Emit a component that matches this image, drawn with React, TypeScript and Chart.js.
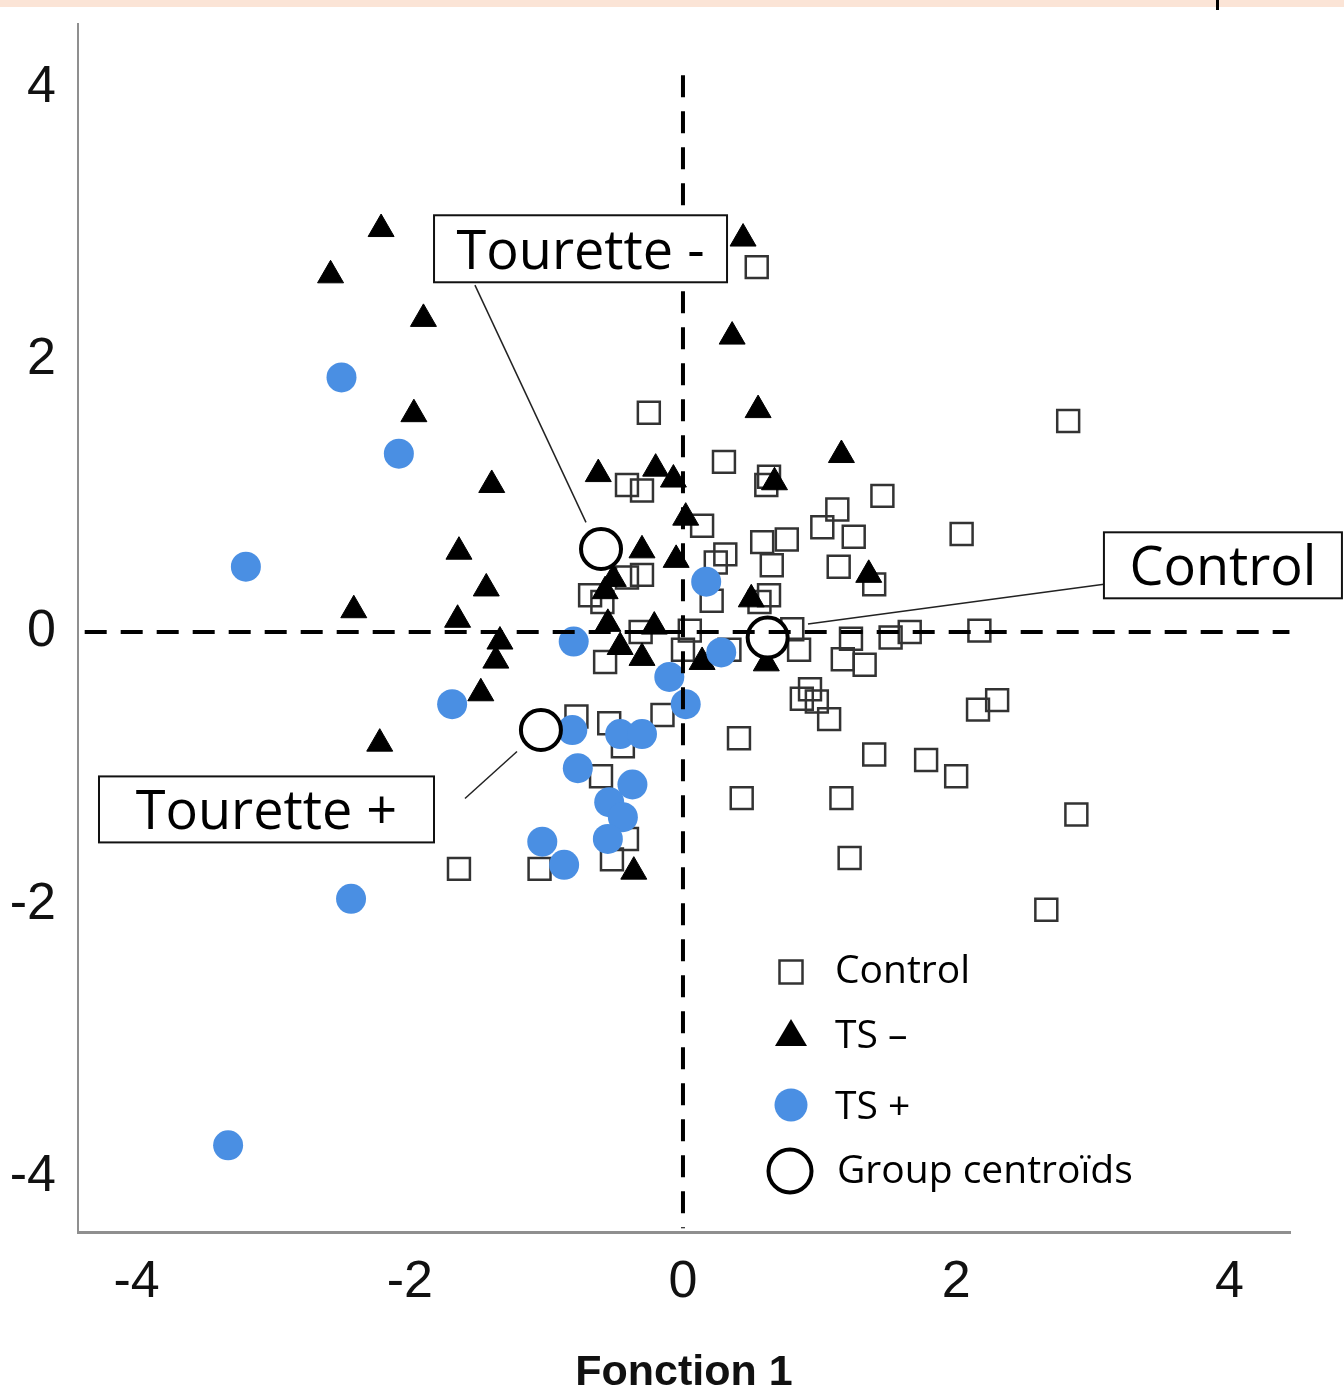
import React, { useEffect, useRef } from "react";
import { Chart, registerables } from "chart.js";

Chart.register(...registerables);

// ---- axis ticks ----
const xTicks = [-4, -2, 0, 2, 4];
const yTicks = [-4, -2, 0, 2, 4];
const xTitle = "Fonction 1";

// ---- Control (open squares) ----
const controlX = [0.54, 2.82, -0.25, 0.30, -0.41, -0.30, 0.63, 0.61, 1.46, 1.13, 1.02, 1.25, 2.04, 0.14, 0.58, 0.76, 0.31, 0.24, 0.65, 1.14, 1.40, -0.30, -0.41, -0.68, -0.59, 0.21, 0.63, -0.31, 0.05, 0.00, -0.57, 0.34, 0.80, 0.85, 1.23, 1.52, 1.66, 2.17, 1.17, 1.33, 0.93, 0.87, 0.98, 1.07, 2.16, 2.30, 0.41, 1.40, 1.78, 2.00, 0.43, 1.16, 2.88, 1.22, 2.66, -0.78, -0.54, -0.44, -0.15, -0.60, -0.41, -0.52, -1.05, -1.64, 0.56];
const controlY = [2.68, 1.55, 1.61, 1.25, 1.08, 1.04, 1.14, 1.08, 1.00, 0.90, 0.77, 0.70, 0.72, 0.78, 0.66, 0.68, 0.57, 0.51, 0.49, 0.48, 0.35, 0.42, 0.40, 0.27, 0.22, 0.23, 0.27, 0.00, 0.01, -0.13, -0.22, -0.13, 0.02, -0.13, -0.05, -0.04, 0.00, 0.01, -0.20, -0.24, -0.42, -0.49, -0.51, -0.64, -0.57, -0.50, -0.78, -0.90, -0.94, -1.06, -1.22, -1.22, -1.34, -1.66, -2.04, -0.62, -0.67, -0.84, -0.61, -1.06, -1.52, -1.67, -1.74, -1.74, 0.22];

// ---- TS − (black triangles) ----
const tsMinusX = [-2.21, -2.58, -1.90, -1.97, -1.40, -1.64, -1.44, -2.41, -1.65, -1.34, -1.37, -1.48, -2.22, 0.44, 0.36, 0.55, 1.16, 1.36, -0.36, -0.62, -0.20, -0.07, 0.02, -0.30, -0.05, -0.51, -0.55, -0.21, -0.46, -0.30, 0.14, 0.50, 0.67, 0.61, -0.57];
const tsMinusY = [2.96, 2.62, 2.30, 1.60, 1.08, 0.59, 0.32, 0.16, 0.09, -0.07, -0.21, -0.45, -0.82, 2.89, 2.17, 1.63, 1.30, 0.42, -1.76, 1.16, 1.20, 1.12, 0.84, 0.60, 0.53, 0.39, 0.06, 0.04, -0.11, -0.19, -0.22, 0.24, 1.10, -0.23, 0.30];

// ---- TS + (blue dots) ----
const tsPlusX = [-2.50, -2.08, -3.20, -1.69, -2.43, -3.33, -0.80, 0.17, 0.28, -0.10, 0.02, -0.81, -0.46, -0.30, -0.77, -0.37, -0.54, -0.44, -0.55, -1.03, -0.87];
const tsPlusY = [1.87, 1.31, 0.48, -0.53, -1.96, -3.77, -0.07, 0.37, -0.15, -0.33, -0.53, -0.72, -0.75, -0.75, -1.00, -1.12, -1.25, -1.36, -1.52, -1.54, -1.71];

// ---- Group centroids ----
const centroidNames = ["Tourette -", "Control", "Tourette +"];
const centroidX = [-0.60, 0.62, -1.04];
const centroidY = [0.61, -0.04, -0.72];

// ---- legend labels ----
const legendLabels = ["Control", "TS \u2013", "TS +", "Group centro\u00efds"];

// ---- annotation callouts (data coordinates) ----
const calloutBoxX = [-0.75, 3.953, -3.049];
const calloutBoxY = [2.815, 0.49, -1.303];
const calloutLineFromX = [-1.523, 3.082, -1.596];
const calloutLineFromY = [2.548, 0.351, -1.223];
const calloutLineToX = [-0.71, 0.915, -1.215];
const calloutLineToY = [0.805, 0.059, -0.878];

const pts = (xs: number[], ys: number[]) => xs.map((x, i) => ({ x, y: ys[i] }));

const SANS = "'Liberation Sans', Arial, sans-serif";
const OPEN = "'Open Sans', 'Noto Sans', sans-serif";
const BLUE = "#4a8fe3";

export default function App() {
  const ref = useRef<HTMLCanvasElement | null>(null);

  useEffect(() => {
    if (!ref.current) return;

    const boxSizes = [
      { w: 293, h: 67 },
      { w: 238, h: 66 },
      { w: 335, h: 66 },
    ];

    const extras = {
      id: "extras",
      beforeDraw(chart: any) {
        const ctx = chart.ctx;
        ctx.save();
        ctx.fillStyle = "#ffffff";
        ctx.fillRect(0, 0, chart.width, chart.height);
        ctx.fillStyle = "#fbe4d6";
        ctx.fillRect(0, 0, chart.width, 7);
        ctx.fillStyle = "#000";
        ctx.fillRect(1216, 0, 3, 10);
        ctx.restore();
      },
      afterDraw(chart: any) {
        const ctx = chart.ctx;
        const xs = chart.scales.x;
        const ys = chart.scales.y;
        ctx.save();
        // callout boxes
        centroidNames.forEach((name, i) => {
          const cx = xs.getPixelForValue(calloutBoxX[i]);
          const cy = ys.getPixelForValue(calloutBoxY[i]);
          const { w, h } = boxSizes[i];
          ctx.fillStyle = "#fff";
          ctx.fillRect(cx - w / 2, cy - h / 2, w, h);
          ctx.strokeStyle = "#111";
          ctx.lineWidth = 2;
          ctx.strokeRect(cx - w / 2, cy - h / 2, w, h);
          ctx.fillStyle = "#000";
          ctx.font = `54px ${OPEN}`;
          ctx.textAlign = "center";
          ctx.textBaseline = "alphabetic";
          ctx.fillText(name, cx, cy + 20);
        });

        // legend
        const mx = 791;
        const tx = 835;
        const rows = [969, 1034, 1105, 1169];
        // square
        ctx.strokeStyle = "#333";
        ctx.lineWidth = 2.5;
        ctx.strokeRect(mx - 11.5, rows[0] + 3 - 11.5, 23, 23);
        // triangle
        ctx.fillStyle = "#000";
        ctx.beginPath();
        ctx.moveTo(mx, rows[1] - 15);
        ctx.lineTo(mx + 16, rows[1] + 12);
        ctx.lineTo(mx - 16, rows[1] + 12);
        ctx.closePath();
        ctx.fill();
        // blue dot
        ctx.fillStyle = BLUE;
        ctx.beginPath();
        ctx.arc(mx, rows[2], 16.5, 0, Math.PI * 2);
        ctx.fill();
        // centroid
        ctx.fillStyle = "#fff";
        ctx.strokeStyle = "#000";
        ctx.lineWidth = 4;
        ctx.beginPath();
        ctx.arc(mx - 1, rows[3] + 2, 21.5, 0, Math.PI * 2);
        ctx.fill();
        ctx.stroke();

        ctx.fillStyle = "#000";
        ctx.font = `39px ${OPEN}`;
        ctx.textAlign = "left";
        ctx.textBaseline = "alphabetic";
        legendLabels.forEach((lab, i) => {
          ctx.fillText(lab, tx + (i === 3 ? 2 : 0), rows[i] + 14);
        });
        ctx.restore();
      },
    };

    const leaderSets = centroidNames.map((_, i) => ({
      label: "leader" + i,
      data: [
        { x: calloutLineFromX[i], y: calloutLineFromY[i] },
        { x: calloutLineToX[i], y: calloutLineToY[i] },
      ],
      showLine: true,
      borderColor: "#222",
      borderWidth: 1.5,
      pointRadius: 0,
      order: 0,
    }));

    const chart = new Chart(ref.current, {
      type: "scatter",
      data: {
        datasets: [
          {
            label: "hzero",
            data: [
              { x: -4.38, y: 0 },
              { x: 4.44, y: 0 },
            ],
            showLine: true,
            borderColor: "#000",
            borderWidth: 4,
            borderDash: [22, 14],
            pointRadius: 0,
            order: 0,
          },
          {
            label: "vzero",
            data: [
              { x: 0, y: 4.09 },
              { x: 0, y: -4.38 },
            ],
            showLine: true,
            borderColor: "#000",
            borderWidth: 4,
            borderDash: [22, 14],
            pointRadius: 0,
            order: 0,
          },
          ...leaderSets,
          {
            label: "Group centroids",
            data: pts(centroidX, centroidY),
            pointStyle: "circle",
            pointRadius: 20,
            backgroundColor: "#fff",
            borderColor: "#000",
            borderWidth: 4,
            order: 1,
          },
          {
            label: "TS +",
            data: pts(tsPlusX, tsPlusY),
            pointStyle: "circle",
            pointRadius: 15,
            backgroundColor: BLUE,
            borderColor: BLUE,
            borderWidth: 0,
            order: 2,
          },
          {
            label: "TS -",
            data: pts(tsMinusX, tsMinusY),
            pointStyle: "triangle",
            pointRadius: 15,
            backgroundColor: "#000",
            borderColor: "#000",
            borderWidth: 1,
            order: 3,
          },
          {
            label: "Control",
            data: pts(controlX, controlY),
            pointStyle: "rect",
            pointRadius: 15.5,
            backgroundColor: "rgba(255,255,255,0)",
            borderColor: "#333",
            borderWidth: 2.5,
            order: 4,
          },
        ],
      },
      options: {
        animation: false,
        responsive: false,
        devicePixelRatio: 1,
        events: [],
        layout: { padding: { top: 20, right: 54, left: 0, bottom: 0 } },
        plugins: {
          legend: { display: false },
          tooltip: { enabled: false },
        },
        scales: {
          x: {
            type: "linear",
            min: -4.429,
            max: 4.444,
            afterBuildTicks: (s: any) => {
              s.ticks = xTicks.map((v) => ({ value: v }));
            },
            afterFit: (s: any) => {
              s.height = 160;
              s.paddingLeft = 0;
              s.paddingRight = 0;
            },
            grid: { display: false },
            border: { display: true, color: "#8f8f8f", width: 3 },
            ticks: {
              font: { family: SANS, size: 52 },
              color: "#111",
              padding: 11,
              maxRotation: 0,
              callback: (v: any) => String(v),
            },
            title: {
              display: true,
              text: xTitle,
              color: "#111",
              font: { family: SANS, size: 43, weight: "bold", lineHeight: 0.9 },
              padding: { top: 0, bottom: 0 },
            },
          },
          y: {
            type: "linear",
            min: -4.407,
            max: 4.466,
            afterBuildTicks: (s: any) => {
              s.ticks = yTicks.map((v) => ({ value: v }));
            },
            afterFit: (s: any) => {
              s.width = 78;
              s.paddingTop = 0;
              s.paddingBottom = 0;
            },
            grid: { display: false },
            border: { display: true, color: "#8f8f8f", width: 2 },
            ticks: {
              font: { family: SANS, size: 52 },
              color: "#111",
              padding: 14,
              callback: (v: any) => String(v),
            },
          },
        },
      } as any,
      plugins: [extras],
    });

    return () => chart.destroy();
  }, []);

  return (
    <div style={{ position: "absolute", left: 0, top: 0, width: 1344, height: 1392, background: "#fff" }}>
      <canvas ref={ref} width={1344} height={1392} style={{ display: "block", width: 1344, height: 1392 }} />
    </div>
  );
}
